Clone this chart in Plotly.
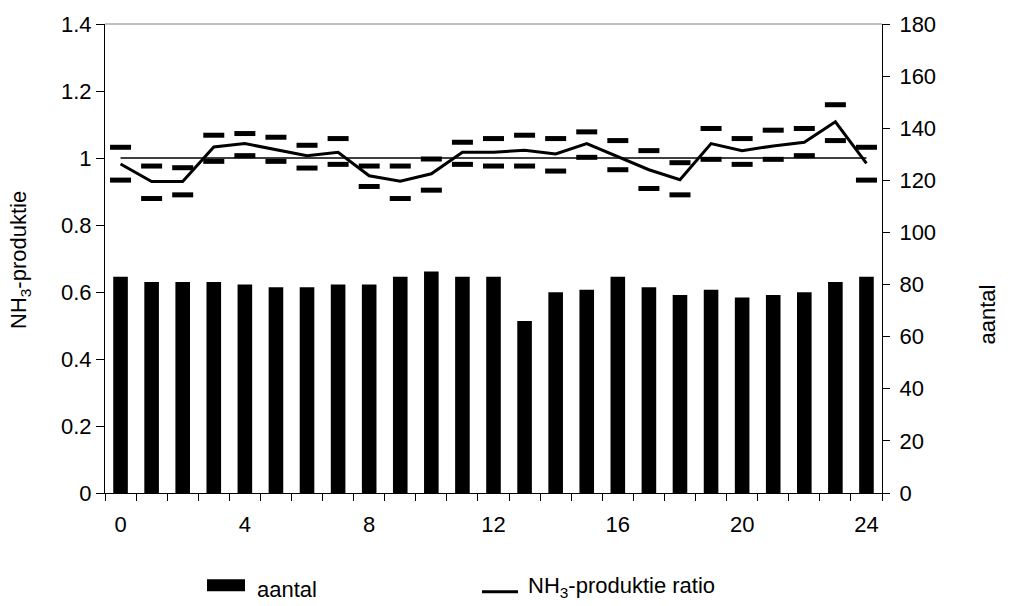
import plotly.graph_objects as go

# Hour of day
hours = list(range(25))

# Number of measurements per hour (right axis)
aantal = [83, 81, 81, 81, 80, 79, 79, 80, 80, 83, 85, 83, 83,
          66, 77, 78, 83, 79, 76, 78, 75, 76, 77, 81, 83]

# NH3 production ratio per hour (left axis) with upper/lower bounds
ratio = [0.982, 0.930, 0.930, 1.033, 1.043, 1.025, 1.007, 1.017, 0.947,
         0.931, 0.953, 1.017, 1.017, 1.023, 1.012, 1.043, 1.005, 0.965,
         0.935, 1.043, 1.022, 1.036, 1.047, 1.108, 0.984]
upper = [1.032, 0.976, 0.971, 1.068, 1.073, 1.062, 1.038, 1.058, 0.976,
         0.976, 0.997, 1.047, 1.058, 1.068, 1.058, 1.078, 1.052, 1.022,
         0.986, 1.088, 1.058, 1.083, 1.088, 1.159, 1.032]
lower = [0.934, 0.879, 0.890, 0.990, 1.007, 0.990, 0.970, 0.981, 0.915,
         0.879, 0.904, 0.981, 0.976, 0.976, 0.961, 1.002, 0.965, 0.909,
         0.890, 0.996, 0.981, 0.996, 1.007, 1.052, 0.934]

# Reference level
reference = [1.0] * 25

x_ticks = [0, 4, 8, 12, 16, 20, 24]

FONT = "Arial, Liberation Sans, sans-serif"
FS = 22
W, H = 1015, 606
L, R, T, B = 105, 133, 20, 113
PW, PH = W - L - R, H - T - B


def px(xp):
    return (xp - L) / PW


def py(yp):
    return (H - B - yp) / PH


fig = go.Figure()

fig.add_trace(go.Bar(
    x=hours, y=aantal, yaxis="y2", width=0.47,
    marker=dict(color="black", line=dict(width=0)),
    name="aantal", showlegend=False,
))

fig.add_trace(go.Scatter(
    x=hours, y=reference, mode="lines",
    line=dict(color="black", width=1.3),
    showlegend=False, hoverinfo="skip",
))

fig.add_trace(go.Scatter(
    x=hours, y=ratio, mode="lines",
    line=dict(color="black", width=3),
    name="NH3-produktie ratio", showlegend=False,
))

for bound in (upper, lower):
    fig.add_trace(go.Scatter(
        x=hours, y=bound, mode="markers",
        marker=dict(symbol="line-ew", size=15,
                    line=dict(color="black", width=5)),
        showlegend=False,
    ))

tick_font = dict(family=FONT, size=FS, color="black")

fig.update_layout(
    width=W, height=H,
    margin=dict(l=L, r=R, t=T, b=B, pad=0),
    paper_bgcolor="white", plot_bgcolor="white",
    font=dict(family=FONT, size=FS, color="black"),
    showlegend=False,
    xaxis=dict(
        range=[-0.5, 24.5], tickmode="array", tickvals=x_ticks,
        ticks="", showgrid=False, zeroline=False,
        showline=True, linecolor="black", linewidth=1,
        tickfont=tick_font, ticklabelstandoff=12,
        minor=dict(tickmode="linear", tick0=-0.5, dtick=1,
                   ticks="outside", ticklen=7, tickcolor="black",
                   tickwidth=1, showgrid=False),
    ),
    yaxis=dict(
        range=[0, 1.4], dtick=0.2, tick0=0,
        ticks="outside", ticklen=8, tickcolor="black",
        showgrid=False, zeroline=False,
        showline=True, linecolor="black", linewidth=1,
        tickfont=tick_font,
    ),
    yaxis2=dict(
        range=[0, 180], dtick=20, tick0=0, overlaying="y", side="right",
        ticks="outside", ticklen=7, tickcolor="black",
        showgrid=False, zeroline=False,
        showline=True, linecolor="black", linewidth=1,
        tickfont=tick_font, ticklabelstandoff=5,
    ),
)

# plot-area top border
fig.add_shape(type="line", xref="paper", yref="paper",
              x0=0, x1=1, y0=1, y1=1,
              line=dict(color="#808080", width=1))

# axis titles
fig.add_annotation(text="NH<sub>3</sub>-produktie", xref="paper", yref="paper",
                   x=px(20), y=py(258), textangle=-90, showarrow=False,
                   xanchor="center", yanchor="middle",
                   font=dict(family=FONT, size=FS, color="black"))
fig.add_annotation(text="aantal", xref="paper", yref="paper",
                   x=px(988), y=py(313), textangle=-90, showarrow=False,
                   xanchor="center", yanchor="middle",
                   font=dict(family=FONT, size=FS, color="black"))

# legend
fig.add_shape(type="rect", xref="paper", yref="paper",
              x0=px(207), x1=px(245), y0=py(592), y1=py(580),
              fillcolor="black", line=dict(width=0))
fig.add_annotation(text="aantal", xref="paper", yref="paper",
                   x=px(255), y=py(590), showarrow=False,
                   xanchor="left", yanchor="middle",
                   font=dict(family=FONT, size=FS, color="black"))
fig.add_shape(type="line", xref="paper", yref="paper",
              x0=px(482), x1=px(518), y0=py(592.5), y1=py(592.5),
              line=dict(color="black", width=3))
fig.add_annotation(text="NH<sub>3</sub>-produktie ratio", xref="paper", yref="paper",
                   x=px(526), y=py(588), showarrow=False,
                   xanchor="left", yanchor="middle",
                   font=dict(family=FONT, size=FS, color="black"))

fig.write_html("out.html")
